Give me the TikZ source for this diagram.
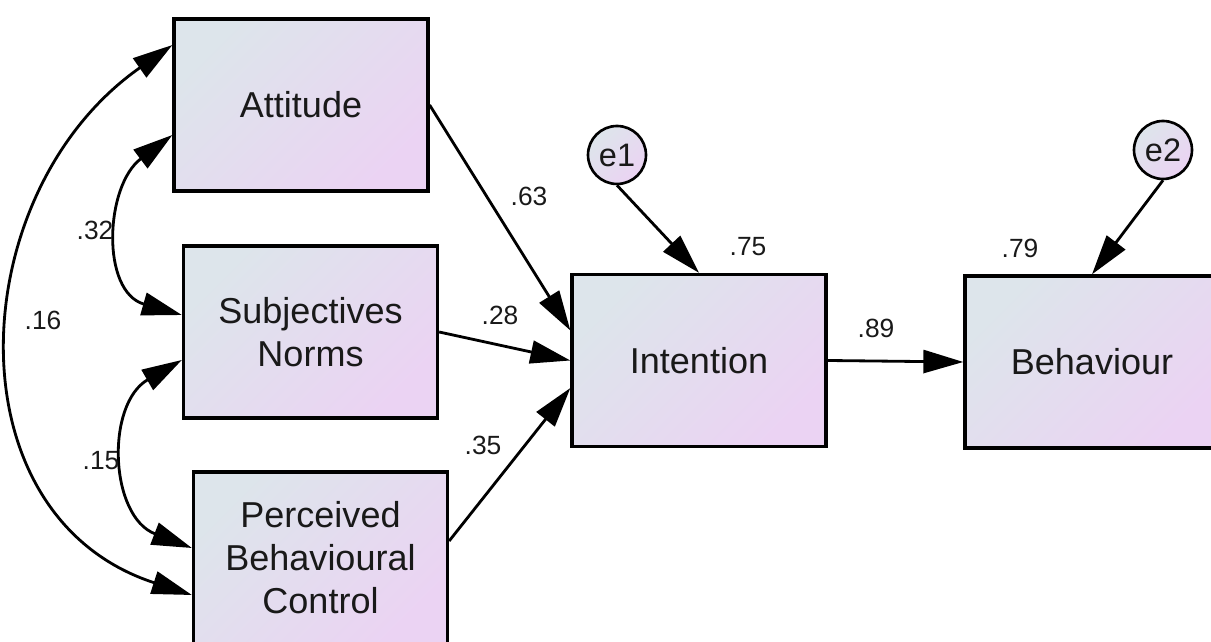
\documentclass[tikz,border=0pt]{standalone}
\usepackage{fontspec}
\setmainfont{Liberation Sans}
\usetikzlibrary{arrows.meta}
\definecolor{boxtl}{RGB}{221,229,235}
\definecolor{boxbr}{RGB}{235,211,243}
\definecolor{inkgray}{RGB}{25,25,25}
\tikzset{
  varbox/.style={draw=black, line width=1.9pt, minimum width=5.08cm, minimum height=3.44cm,
    inner sep=0pt, top color=boxtl, bottom color=boxbr, shading angle=45,
    align=center, text=inkgray, font=\fontsize{20.5}{24.5}\selectfont},
  errnode/.style={circle, draw=black, line width=1.5pt, minimum size=1.16cm, inner sep=0pt,
    top color=boxtl, bottom color=boxbr, shading angle=45,
    text=inkgray, font=\fontsize{18.5}{20}\selectfont},
  effect/.style={line width=1.6pt, -{Triangle[length=0.8cm,width=0.46cm]}},
  cov/.style={line width=1.6pt, {Triangle[length=0.8cm,width=0.46cm]}-{Triangle[length=0.8cm,width=0.46cm]}},
  coef/.style={text=inkgray, font=\fontsize{15}{18}\selectfont}
}
\begin{document}
\begin{tikzpicture}[x=0.02cm, y=0.02cm]
  \useasboundingbox (0,0) rectangle (1211,642);
  % Observed variables
  \node[varbox] (att) at (301,537) {Attitude};
  \node[varbox] (sn) at (310.5,310) {Subjectives\\Norms};
  \node[varbox] (pbc) at (320.5,84) {Perceived\\Behavioural\\Control};
  \node[varbox] (intn) at (699,281.5) {Intention};
  \node[varbox] (beh) at (1092,280) {Behaviour};
  % Error terms
  \node[errnode] (e1) at (617,487) {e1};
  \node[errnode] (e2) at (1163,492) {e2};
  % Regression paths
  \draw[effect] (att.east) -- ([yshift=0.6cm]intn.west);
  \draw[effect] (sn.east) -- (intn.west);
  \draw[effect] ([yshift=0.34cm]pbc.east) -- ([yshift=-0.55cm]intn.west);
  \draw[effect] (e1.south) -- (intn.north);
  \draw[effect] (intn.east) -- (beh.west);
  \draw[effect] (e2.south) -- (beh.north);
  % Covariances
  \draw[cov] ([yshift=-0.6cm]att.west) to[out=217, in=164, looseness=1.2] ([yshift=0.34cm]sn.west);
  \draw[cov] ([yshift=-0.56cm]sn.west) to[out=210, in=159, looseness=1.2] ([yshift=0.2cm]pbc.west);
  \draw[cov] ([yshift=1.2cm]att.west) to[out=215, in=162, looseness=1.19] ([yshift=-0.74cm]pbc.west);
  % Coefficients
  \node[coef] (c32) at (95,412) {.32};
  \node[coef] (c16) at (43,322) {.16};
  \node[coef] (c15) at (101,181) {.15};
  \node[coef] (c63) at (529,446) {.63};
  \node[coef] (c28) at (500,327) {.28};
  \node[coef] (c35) at (483,197) {.35};
  \node[coef] (c75) at (748,395) {.75};
  \node[coef] (c89) at (876,314) {.89};
  \node[coef] (c79) at (1020,394) {.79};
\end{tikzpicture}
\end{document}
